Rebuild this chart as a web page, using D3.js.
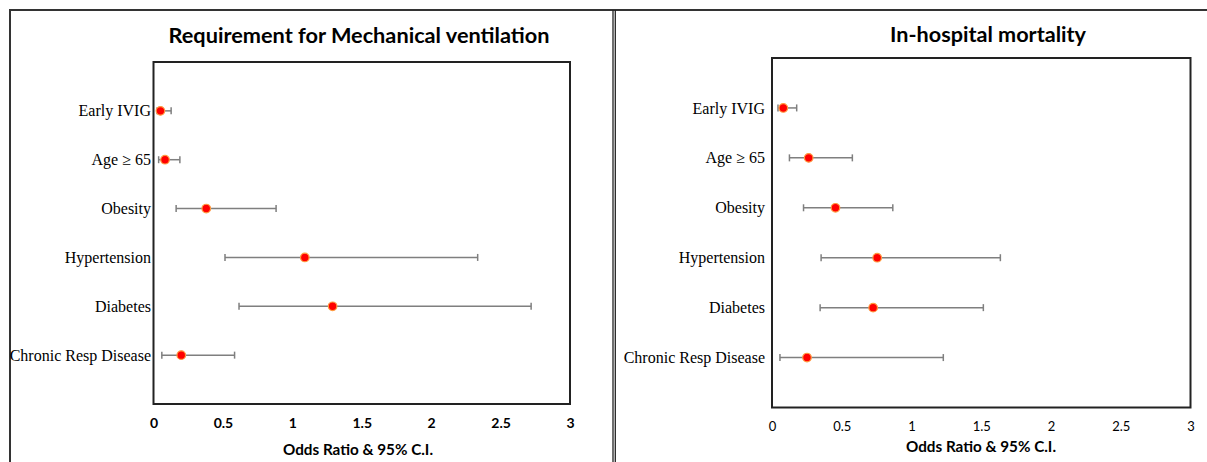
<!DOCTYPE html>
<html>
<head>
<meta charset="utf-8">
<script src="https://cdn.jsdelivr.net/npm/d3@7"></script>
<style>
  body { margin: 0; background: #fff; }
  svg { display: block; }
</style>
</head>
<body>
<script>
// rows, top to bottom
var categories = ["Early IVIG", "Age \u2265 65", "Obesity", "Hypertension", "Diabetes", "Chronic Resp Disease"];
var xTicks = [0, 0.5, 1, 1.5, 2, 2.5, 3];

// Requirement for mechanical ventilation: odds ratio + 95% CI
var ventOR   = [0.05, 0.083, 0.38, 1.09, 1.29, 0.20];
var ventLow  = [0.026, 0.037, 0.163, 0.515, 0.616, 0.06];
var ventHigh = [0.127, 0.19, 0.883, 2.335, 2.72, 0.584];

// In-hospital mortality: odds ratio + 95% CI
var mortOR   = [0.081, 0.263, 0.455, 0.754, 0.725, 0.251];
var mortLow  = [0.043, 0.125, 0.226, 0.352, 0.345, 0.057];
var mortHigh = [0.177, 0.576, 0.866, 1.637, 1.515, 1.228];

var width = 1207, height = 462;
var sans = "Lato, 'Open Sans', sans-serif";
var serif = "'Liberation Serif', 'Times New Roman', serif";

var svg = d3.select("body").append("svg")
  .attr("width", width)
  .attr("height", height);

/* outer frames */
var frame = svg.append("g").attr("fill", "none").attr("stroke", "#333");
frame.append("line").attr("x1", 9).attr("x2", width).attr("y1", 10).attr("y2", 10).attr("stroke-width", 2);
frame.append("line").attr("x1", 10).attr("x2", 10).attr("y1", 9).attr("y2", height).attr("stroke-width", 2);
frame.append("line").attr("x1", 613).attr("x2", 613).attr("y1", 10).attr("y2", height).attr("stroke-width", 1.3).attr("stroke", "#222");
frame.append("line").attr("x1", 615.3).attr("x2", 615.3).attr("y1", 10).attr("y2", height).attr("stroke-width", 1.3).attr("stroke", "#222");

function panel(opt) {
  var x = d3.scaleLinear().domain([0, 3]).range([opt.left, opt.right]);
  var y = d3.scalePoint().domain(categories).range([opt.top, opt.bottom]).padding(1);

  var rows = categories.map(function(c, i) {
    return { cat: c, or: opt.or[i], lo: opt.lo[i], hi: opt.hi[i] };
  });

  // title
  svg.append("text")
    .attr("x", opt.titleX)
    .attr("y", opt.titleY)
    .attr("text-anchor", "middle")
    .attr("font-family", sans)
    .attr("font-weight", "bold")
    .attr("font-size", 20)
    .attr("textLength", opt.titleLen)
    .attr("lengthAdjust", "spacingAndGlyphs")
    .attr("fill", "#000")
    .text(opt.title);

  // plot box
  svg.append("rect")
    .attr("x", opt.left)
    .attr("y", opt.top)
    .attr("width", opt.right - opt.left)
    .attr("height", opt.bottom - opt.top)
    .attr("fill", "none")
    .attr("stroke", "#222")
    .attr("stroke-width", 2);

  // x axis
  var xa = svg.append("g")
    .attr("transform", "translate(0," + opt.bottom + ")")
    .call(d3.axisBottom(x).tickValues(xTicks).tickSize(0).tickPadding(14).tickFormat(d3.format("")));
  xa.select(".domain").remove();
  xa.selectAll("text")
    .attr("font-family", sans)
    .attr("font-size", opt.tickBold ? 14 : 13)
    .attr("font-weight", opt.tickBold ? "bold" : "normal")
    .attr("fill", "#000");

  svg.append("text")
    .attr("x", opt.axisTitleX)
    .attr("y", opt.axisTitleY)
    .attr("text-anchor", "middle")
    .attr("font-family", sans)
    .attr("font-weight", "bold")
    .attr("font-size", 15)
    .attr("textLength", 150)
    .attr("lengthAdjust", "spacingAndGlyphs")
    .attr("fill", "#000")
    .text("Odds Ratio & 95% C.I.");

  // category labels
  var ya = svg.append("g")
    .attr("transform", "translate(" + opt.left + ",0)")
    .call(d3.axisLeft(y).tickSize(0).tickPadding(opt.labelPad));
  ya.select(".domain").remove();
  ya.selectAll("text")
    .attr("font-family", serif)
    .attr("font-size", 16)
    .attr("fill", "#000");

  // CI bars
  var g = svg.append("g").attr("stroke", "#7f7f7f").attr("stroke-width", 1.5);
  g.selectAll("line.ci").data(rows).enter().append("line")
    .attr("class", "ci")
    .attr("x1", function(d) { return x(d.lo); })
    .attr("x2", function(d) { return x(d.hi); })
    .attr("y1", function(d) { return y(d.cat); })
    .attr("y2", function(d) { return y(d.cat); });
  g.selectAll("line.capl").data(rows).enter().append("line")
    .attr("x1", function(d) { return x(d.lo); })
    .attr("x2", function(d) { return x(d.lo); })
    .attr("y1", function(d) { return y(d.cat) - 3.5; })
    .attr("y2", function(d) { return y(d.cat) + 3.5; });
  g.selectAll("line.caph").data(rows).enter().append("line")
    .attr("x1", function(d) { return x(d.hi); })
    .attr("x2", function(d) { return x(d.hi); })
    .attr("y1", function(d) { return y(d.cat) - 3.5; })
    .attr("y2", function(d) { return y(d.cat) + 3.5; });

  // points
  svg.append("g").selectAll("circle").data(rows).enter().append("circle")
    .attr("cx", function(d) { return x(d.or); })
    .attr("cy", function(d) { return y(d.cat); })
    .attr("r", 4.3)
    .attr("fill", "#ff0000")
    .attr("stroke", "#ff9a40")
    .attr("stroke-width", 1.2);
}

panel({
  title: "Requirement for Mechanical ventilation",
  titleX: 359, titleY: 43, titleLen: 381,
  left: 153.5, right: 570, top: 62, bottom: 404,
  or: ventOR, lo: ventLow, hi: ventHigh,
  tickBold: true, labelPad: 2.5,
  axisTitleX: 358, axisTitleY: 455
});

panel({
  title: "In-hospital mortality",
  titleX: 988, titleY: 42, titleLen: 196,
  left: 772, right: 1190.5, top: 58, bottom: 407.5,
  or: mortOR, lo: mortLow, hi: mortHigh,
  tickBold: false, labelPad: 7,
  axisTitleX: 981, axisTitleY: 452
});
</script>
</body>
</html>
